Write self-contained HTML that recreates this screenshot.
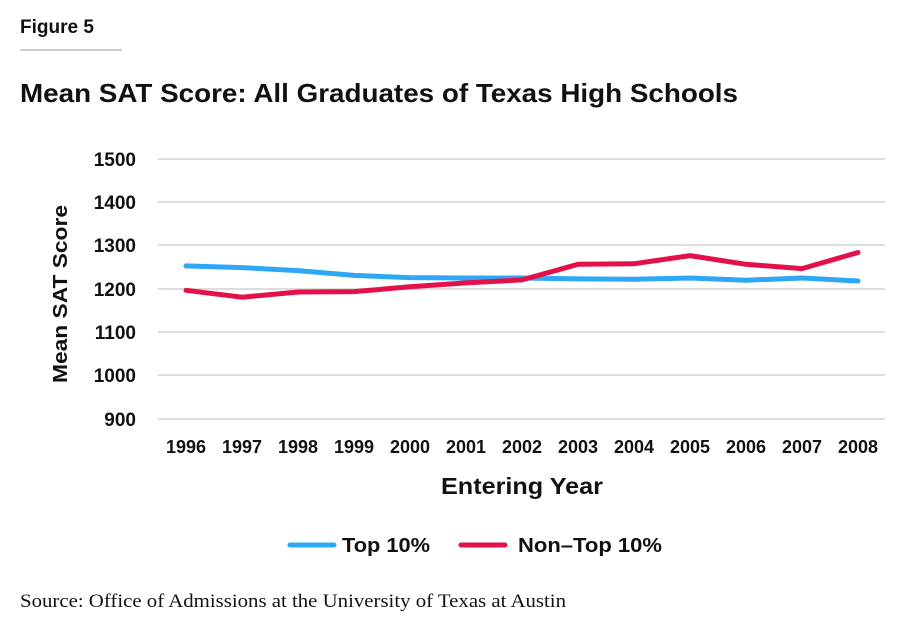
<!DOCTYPE html>
<html><head><style>
body{margin:0;width:912px;height:630px;background:#fff;font-family:"Liberation Sans",sans-serif;overflow:hidden}
</style></head><body>
<svg width="912" height="630" xmlns="http://www.w3.org/2000/svg" font-family="Liberation Sans, sans-serif">
<text x="20" y="33" font-size="19" font-weight="bold" fill="#111">Figure 5</text>
<line x1="20" y1="50" x2="122" y2="50" stroke="#999" stroke-width="1"/>
<text x="20" y="102" font-size="26" font-weight="bold" fill="#111" textLength="718" lengthAdjust="spacingAndGlyphs">Mean SAT Score: All Graduates of Texas High Schools</text>
<g stroke="#ddd" stroke-width="2">
<line x1="158" y1="159" x2="885" y2="159"/><line x1="158" y1="202" x2="885" y2="202"/>
<line x1="158" y1="245" x2="885" y2="245"/><line x1="158" y1="289" x2="885" y2="289"/>
<line x1="158" y1="332" x2="885" y2="332"/><line x1="158" y1="375" x2="885" y2="375"/>
<line x1="158" y1="419" x2="885" y2="419"/>
</g>
<g font-size="19" font-weight="bold" fill="#111" text-anchor="end">
<text x="136" y="166">1500</text><text x="136" y="209">1400</text><text x="136" y="252">1300</text>
<text x="136" y="296">1200</text><text x="136" y="339">1100</text><text x="136" y="382">1000</text>
<text x="136" y="426">900</text>
</g>
<g font-size="18" font-weight="bold" fill="#111" text-anchor="middle">
<text x="186" y="453">1996</text><text x="242" y="453">1997</text><text x="298" y="453">1998</text>
<text x="354" y="453">1999</text><text x="410" y="453">2000</text><text x="466" y="453">2001</text>
<text x="522" y="453">2002</text><text x="578" y="453">2003</text><text x="634" y="453">2004</text>
<text x="690" y="453">2005</text><text x="746" y="453">2006</text><text x="802" y="453">2007</text>
<text x="858" y="453">2008</text>
</g>
<text x="441" y="494" font-size="23" font-weight="bold" fill="#111" textLength="162" lengthAdjust="spacingAndGlyphs">Entering Year</text>
<text transform="translate(67,383) rotate(-90)" font-size="20" font-weight="bold" fill="#111" textLength="178" lengthAdjust="spacingAndGlyphs">Mean SAT Score</text>
<polyline fill="none" stroke="#2ea8f5" stroke-width="5" stroke-linejoin="round" stroke-linecap="round"
points="186,265.9 242,267.6 298,270.6 354,275.4 410,277.6 466,278 522,278 578,278.9 634,279.3 690,278 746,280.2 802,278 858,281"/>
<polyline fill="none" stroke="#e4104a" stroke-width="5" stroke-linejoin="round" stroke-linecap="round"
points="186,290.3 242,297.2 298,292 354,291.6 410,286.8 466,282.9 522,279.9 578,264.3 634,263.8 690,255.6 746,264.3 802,268.6 858,252.5"/>
<line x1="290" y1="545" x2="334" y2="545" stroke="#2ea8f5" stroke-width="5" stroke-linecap="round"/>
<text x="342" y="552" font-size="20" font-weight="bold" fill="#111" textLength="88" lengthAdjust="spacingAndGlyphs">Top 10%</text>
<line x1="461" y1="545" x2="505" y2="545" stroke="#e4104a" stroke-width="5" stroke-linecap="round"/>
<text x="518" y="552" font-size="20" font-weight="bold" fill="#111" textLength="144" lengthAdjust="spacingAndGlyphs">Non–Top 10%</text>
<text x="20" y="607" font-size="19" font-family="Liberation Serif, serif" fill="#111" textLength="546" lengthAdjust="spacingAndGlyphs">Source: Office of Admissions at the University of Texas at Austin</text>
</svg>
</body></html>
